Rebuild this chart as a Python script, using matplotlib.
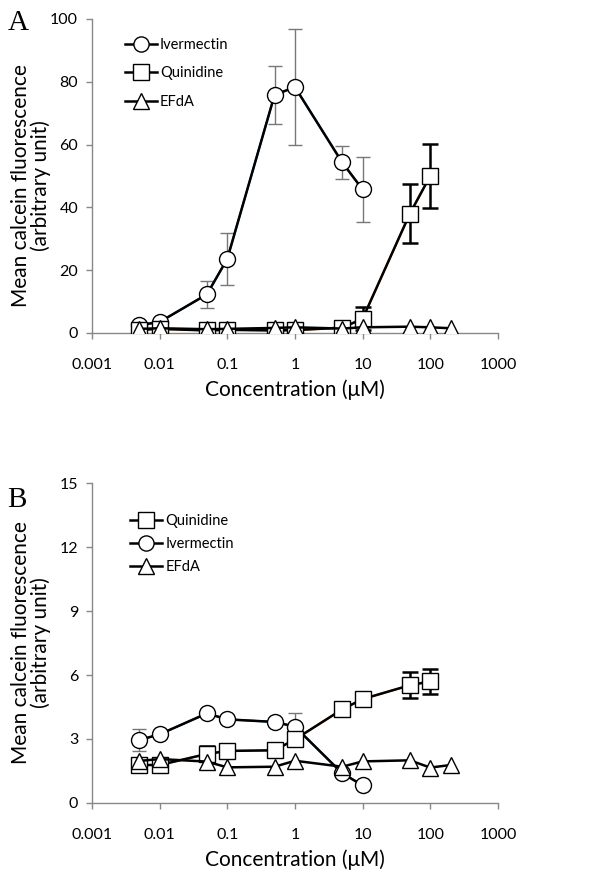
import matplotlib.pyplot as plt
import numpy as np

plt.rcParams['font.family'] = ['Lato', 'DejaVu Sans']

# Panel A data
conc_iver = [0.005, 0.01, 0.05, 0.1, 0.5, 1, 5, 10]
conc_quin = [0.005, 0.01, 0.05, 0.1, 0.5, 1, 5, 10, 50, 100]
conc_efda = [0.005, 0.01, 0.05, 0.1, 0.5, 1, 5, 10, 50, 100, 200]

a_iver = [2.5, 3.5, 12.3, 23.6, 75.8, 78.3, 54.3, 45.7]
a_iver_err = [0.6, 0.6, 4.2, 8.2, 9.3, 18.5, 5.3, 10.4]
a_quin = [1.0, 1.3, 0.8, 1.0, 0.8, 0.9, 1.7, 4.5, 38.0, 50.0]
a_quin_err = [0.4, 0.4, 0.3, 0.4, 0.3, 0.3, 0.4, 3.7, 9.5, 10.3]
a_efda = [1.3, 1.5, 1.2, 1.3, 1.6, 1.8, 1.4, 1.8, 2.0, 1.8, 1.5]

# Panel B data
b_quin = [1.78, 1.78, 2.3, 2.44, 2.47, 2.98, 4.39, 4.87, 5.52, 5.7]
b_quin_err = [0.35, 0.15, 0.35, 0.3, 0.15, 0.2, 0.15, 0.15, 0.6, 0.57]
b_iver = [2.95, 3.22, 4.2, 3.92, 3.8, 3.58, 1.39, 0.83]
b_iver_err = [0.52, 0.1, 0.1, 0.1, 0.1, 0.62, 0.1, 0.05]
b_efda = [1.97, 2.06, 1.94, 1.67, 1.70, 1.98, 1.70, 1.95, 2.0, 1.66, 1.78]

xticks = [0.001, 0.01, 0.1, 1, 10, 100, 1000]
xticklabels = ['0.001', '0.01', '0.1', '1', '10', '100', '1000']

fig = plt.figure(figsize=(6.04, 8.73), dpi=100)
axA = fig.add_axes([0.1523, 0.6186, 0.672, 0.3597])
axB = fig.add_axes([0.1523, 0.0802, 0.672, 0.3665])

mk = dict(markersize=11.5, markerfacecolor='white', markeredgecolor='black',
          markeredgewidth=1.0, color='black', linewidth=1.8)


def style(ax, ymax, ystep, ylab_y):
    ax.set_xscale('log')
    ax.set_xlim(0.001, 1000)
    ax.set_ylim(0, ymax)
    ax.set_xticks(xticks)
    ax.set_xticklabels(xticklabels)
    ax.minorticks_off()
    ax.set_yticks(np.arange(0, ymax + 0.1, ystep))
    for s in ['top', 'right']:
        ax.spines[s].set_visible(False)
    for s in ['left', 'bottom']:
        ax.spines[s].set_color('#888888')
        ax.spines[s].set_linewidth(1.0)
    ax.tick_params(axis='both', colors='#888888', labelcolor='black',
                   labelsize=11.5, length=4, width=1.0)
    ax.tick_params(axis='x', direction='out', pad=14)
    ax.tick_params(axis='y', pad=6)
    ax.set_xlabel('Concentration (μM)', fontsize=15, labelpad=5)
    ax.set_ylabel('Mean calcein fluorescence\n(arbitrary unit)', fontsize=15,
                  linespacing=1.0)
    ax.yaxis.set_label_coords(-0.1, ylab_y)


# Panel A
axA.errorbar(conc_iver, a_iver, yerr=a_iver_err, ecolor='#777777', elinewidth=1.0,
             capsize=5, capthick=1.0, zorder=3)
axA.errorbar(conc_quin, a_quin, yerr=a_quin_err, ecolor='black', elinewidth=1.8,
             capsize=6, capthick=1.8, zorder=3)
axA.plot(conc_iver, a_iver, marker='o', label='Ivermectin', zorder=4, **mk)
axA.plot(conc_quin, a_quin, marker='s', label='Quinidine', zorder=5, **mk)
axA.plot(conc_efda, a_efda, marker='^', label='EFdA', zorder=6, **mk)
style(axA, 100, 20, 0.47)
axA.legend(loc='upper left', bbox_to_anchor=(0.081, 0.94), frameon=False,
           borderpad=0, borderaxespad=0,
           fontsize=10.5, handlelength=2.2, handletextpad=0.2, labelspacing=0.99,
           markerscale=0.95)

# Panel B
axB.errorbar(conc_iver, b_iver, yerr=b_iver_err, ecolor='#777777', elinewidth=1.0,
             capsize=5, capthick=1.0, zorder=3)
axB.errorbar(conc_quin, b_quin, yerr=b_quin_err, ecolor='black', elinewidth=1.8,
             capsize=6, capthick=1.8, zorder=3)
axB.plot(conc_quin, b_quin, marker='s', label='Quinidine', zorder=5, **mk)
axB.plot(conc_iver, b_iver, marker='o', label='Ivermectin', zorder=4, **mk)
axB.plot(conc_efda, b_efda, marker='^', label='EFdA', zorder=6, **mk)
style(axB, 15, 3, 0.5)
axB.legend(loc='upper left', bbox_to_anchor=(0.094, 0.903), frameon=False,
           borderpad=0, borderaxespad=0,
           fontsize=10.5, handlelength=2.2, handletextpad=0.2, labelspacing=0.63,
           markerscale=0.95)

fig.text(0.012, 0.974, 'A', fontsize=21, family='Liberation Serif', va='center')
fig.text(0.012, 0.427, 'B', fontsize=21, family='Liberation Serif', va='center')

fig.savefig('out.png', dpi=100)
